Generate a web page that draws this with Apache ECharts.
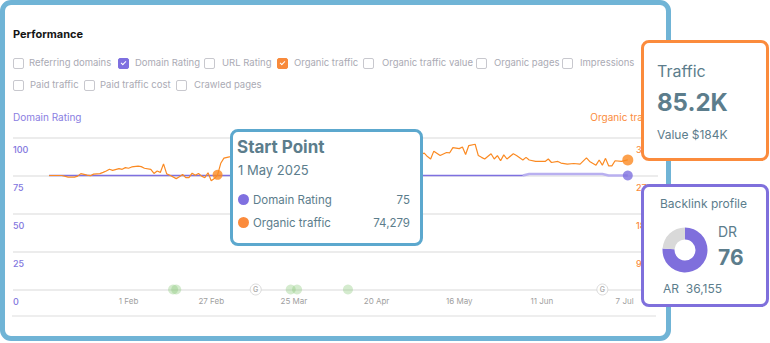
<!DOCTYPE html>
<html>
<head>
<meta charset="utf-8">
<script src="https://cdn.jsdelivr.net/npm/echarts@6/dist/echarts.min.js"></script>
<style>
html,body{margin:0;padding:0;width:770px;height:343px;overflow:hidden;background:#fff;font-family:Inter,"Noto Sans",sans-serif;}
#frame{position:absolute;left:0;top:0;width:671px;height:341px;box-sizing:border-box;border:5px solid #70b4d6;border-radius:11px;background:#fff;}
#chart{position:absolute;left:0;top:0;width:770px;height:343px;z-index:1;}
.title{position:absolute;left:13px;top:27px;font-size:11px;line-height:14px;font-weight:700;color:#141414;z-index:2;}
.cb{position:absolute;width:9px;height:9px;border:1px solid #c8c8ce;border-radius:2px;z-index:2;}
.cb.p{background:#7e70e0;border-color:#7e70e0;}
.cb.o{background:#f88a3c;border-color:#f88a3c;}
.cb.p::after,.cb.o::after{content:"";position:absolute;left:3px;top:1px;width:2px;height:4px;border:solid #fff;border-width:0 1.3px 1.3px 0;transform:rotate(45deg);}
.lbl{position:absolute;font-size:9.5px;line-height:12px;color:#aaaab4;white-space:nowrap;z-index:2;}
#sep{position:absolute;left:12px;top:315px;width:644px;height:2px;background:#eeeeee;z-index:2;}
.card{position:absolute;box-sizing:border-box;background:#fff;border-radius:8px;z-index:3;color:#5c7d8c;}
.card div{position:absolute;white-space:nowrap;}
#tip{left:230px;top:129px;width:193px;height:117px;border:3px solid #5ca8ce;}
#traffic{left:641px;top:40px;width:128px;height:121px;border:3px solid #fb8b3c;}
#backlink{left:641px;top:184px;width:128px;height:123px;border:3px solid #7f70dc;}
.dot{width:11px;height:11px;border-radius:50%;}
#donut{width:46px;height:46px;}
</style>
</head>
<body>
<div id="frame"></div>
<div class="title">Performance</div>

<div class="cb" style="left:13px;top:58px"></div><div class="lbl" style="left:29px;top:57px">Referring domains</div>
<div class="cb p" style="left:118px;top:58px"></div><div class="lbl" style="left:135px;top:57px">Domain Rating</div>
<div class="cb" style="left:204px;top:58px"></div><div class="lbl" style="left:222px;top:57px">URL Rating</div>
<div class="cb o" style="left:277px;top:58px"></div><div class="lbl" style="left:294px;top:57px">Organic traffic</div>
<div class="cb" style="left:363px;top:58px"></div><div class="lbl" style="left:382px;top:57px">Organic traffic value</div>
<div class="cb" style="left:476px;top:58px"></div><div class="lbl" style="left:494px;top:57px">Organic pages</div>
<div class="cb" style="left:562px;top:58px"></div><div class="lbl" style="left:580px;top:57px">Impressions</div>
<div class="cb" style="left:13px;top:80px"></div><div class="lbl" style="left:30px;top:79px">Paid traffic</div>
<div class="cb" style="left:84px;top:80px"></div><div class="lbl" style="left:100px;top:79px">Paid traffic cost</div>
<div class="cb" style="left:176px;top:80px"></div><div class="lbl" style="left:194px;top:79px">Crawled pages</div>

<div id="sep"></div>
<div id="chart"></div>

<div class="card" id="tip">
  <div style="left:4px;top:5px;font-size:17px;line-height:21px;font-weight:700;">Start Point</div>
  <div style="left:5px;top:30px;font-size:13px;line-height:16px;">1 May 2025</div>
  <div class="dot" style="left:5px;top:62px;background:#7f70e0"></div>
  <div style="left:20px;top:61px;font-size:11.5px;line-height:14px;">Domain Rating</div>
  <div style="right:10px;top:61px;font-size:11.5px;line-height:14px;">75</div>
  <div class="dot" style="left:5px;top:85px;background:#fb8b3c"></div>
  <div style="left:20px;top:84px;font-size:11.5px;line-height:14px;">Organic traffic</div>
  <div style="right:10px;top:84px;font-size:11.5px;line-height:14px;">74,279</div>
</div>

<div class="card" id="traffic">
  <div style="left:13px;top:18px;font-size:16px;line-height:20px;">Traffic</div>
  <div style="left:13px;top:45px;font-size:24px;line-height:30px;font-weight:700;">85.2K</div>
  <div style="left:13px;top:85px;font-size:12px;line-height:14px;">Value $184K</div>
</div>

<div class="card" id="backlink">
  <div style="left:16px;top:10px;font-size:12px;line-height:14px;">Backlink profile</div>
  <div id="donut" style="left:18px;top:40px;"></div>
  <div style="left:74px;top:37px;font-size:14px;line-height:16px;">DR</div>
  <div style="left:74px;top:59px;font-size:21px;line-height:24px;font-weight:700;">76</div>
  <div style="left:19px;top:95px;font-size:12px;line-height:14px;">AR&nbsp; 36,155</div>
</div>

<script>
// ---------------- data ----------------
const xRange = ['2024-12-26 16:00', '2025-07-17 12:00'];
const tickDates = ['2025-02-01','2025-02-27','2025-03-25','2025-04-20','2025-05-16','2025-06-11','2025-07-07'];
const monthNames = ['Jan','Feb','Mar','Apr','May','Jun','Jul','Aug','Sep','Oct','Nov','Dec'];

const drTicks = [0, 25, 50, 75, 100];
const trafficTicks = [0, 9000, 18000, 27000, 36000];

const drDates = ['2025-01-07','2025-06-05'];
const drValues = [75, 75];
const drRecentDates = ['2025-06-05','2025-06-07','2025-06-30','2025-07-02','2025-07-08'];
const drRecentValues = [75, 76, 76, 75, 75];

const trafficDates = [
 '2025-01-07','2025-01-11','2025-01-13','2025-01-15','2025-01-16','2025-01-17','2025-01-19','2025-01-20','2025-01-21','2025-01-23',
 '2025-01-24','2025-01-25','2025-01-26','2025-01-27','2025-01-29','2025-01-30','2025-01-31','2025-02-01','2025-02-02','2025-02-04',
 '2025-02-05','2025-02-06','2025-02-08','2025-02-09','2025-02-10','2025-02-11','2025-02-12','2025-02-13','2025-02-14','2025-02-16',
 '2025-02-17','2025-02-18','2025-02-19','2025-02-20','2025-02-21','2025-02-22','2025-02-23','2025-02-24','2025-02-25','2025-02-26',
 '2025-02-27','2025-02-28','2025-03-01','2025-03-02','2025-03-03','2025-03-05','2025-03-06',
 '2025-03-08','2025-03-10','2025-03-12','2025-03-14','2025-03-16','2025-03-18','2025-03-20','2025-03-22','2025-03-24','2025-03-26',
 '2025-03-28','2025-03-30','2025-04-01','2025-04-03','2025-04-05','2025-04-07','2025-04-09','2025-04-11','2025-04-13','2025-04-15',
 '2025-04-17','2025-04-19','2025-04-21','2025-04-23','2025-04-25','2025-04-27','2025-04-29','2025-05-01','2025-05-03','2025-05-05',
 '2025-05-06','2025-05-07','2025-05-08','2025-05-10','2025-05-12','2025-05-13','2025-05-14','2025-05-16','2025-05-17','2025-05-18',
 '2025-05-19','2025-05-21','2025-05-22','2025-05-23','2025-05-24','2025-05-26','2025-05-27','2025-05-28','2025-05-29','2025-05-30',
 '2025-05-31','2025-06-02','2025-06-03','2025-06-05','2025-06-06','2025-06-07','2025-06-09','2025-06-12','2025-06-13','2025-06-14',
 '2025-06-16','2025-06-17','2025-06-19','2025-06-21','2025-06-23','2025-06-25','2025-06-26','2025-06-28','2025-06-29','2025-06-30',
 '2025-07-01','2025-07-02','2025-07-03','2025-07-04','2025-07-06','2025-07-08'
];
const trafficValues = [
 27000,27000,26630,26630,26850,27440,27100,26960,27320,27440,
 27730,28050,28470,28220,28610,28470,28860,28710,29030,29200,
 29100,28710,28470,27490,28050,27730,29760,27390,27070,26260,
 26700,27240,26480,26480,27560,27070,27490,26850,26480,27640,
 25760,26260,27150,29890,31110,31480,31720,
 32400,31800,32900,32100,33200,32500,31600,32800,33400,32200,
 31900,33000,32600,31800,32900,33500,32300,31700,32800,33100,
 32000,32700,33300,32400,31900,32800,32200,32600,31800,32300,
 31480,30910,32770,31720,32450,32380,33600,33360,33750,31970,
 34090,34410,31720,31300,30910,32140,30910,31720,30500,31890,
 30910,32140,31720,30670,31300,30670,30330,30330,30910,30080,
 30330,29940,29690,29840,29690,31160,30330,29450,30670,29450,
 31060,29270,29270,30500,30330,30690
];

const startPointDate = '2025-03-01';
const startPointValue = 27150;

const eventDates = ['2025-02-15','2025-02-16','2025-03-24','2025-03-26','2025-04-11'];
const googleDates = ['2025-03-13','2025-06-30'];

const drScore = 76;
const drMax = 100;

// ---------------- helpers ----------------
function ts(s) {
  const [d, t] = s.split(' ');
  const [y, m, dd] = d.split('-').map(Number);
  let h = 0, mi = 0;
  if (t) { [h, mi] = t.split(':').map(Number); }
  return new Date(y, m - 1, dd, h, mi).getTime();
}
const pairs = (ds, vs) => ds.map((d, i) => [ts(d), vs[i]]);

const PURPLE = '#7e70e0', PURPLE_L = '#b9b0f0', ORANGE = '#fb8a22';
const FONT = 'Inter';

const trafficData = pairs(trafficDates, trafficValues);
const drData = pairs(drDates, drValues);
const drRecentData = pairs(drRecentDates, drRecentValues);

const donut = echarts.init(document.getElementById('donut'), null, {renderer: 'svg'});
donut.setOption({
  animation: false,
  series: [{
    type: 'pie', radius: [10.5, 22.5], center: ['50%', '50%'], startAngle: 90, clockwise: true,
    label: {show: false}, labelLine: {show: false}, silent: true,
    data: [
      {name: 'DR', value: drScore, itemStyle: {color: '#7f6fdc'}},
      {name: 'rest', value: drMax - drScore, itemStyle: {color: '#d9d9d9'}}
    ]
  }]
});

const chart = echarts.init(document.getElementById('chart'), null, {renderer: 'svg'});
chart.setOption({
  animation: false,
  grid: {left: 13, right: 770 - 658, top: 137.5, bottom: 343 - 289.5},
  xAxis: {
    type: 'value', min: ts(xRange[0]), max: ts(xRange[1]), scale: true,
    axisLine: {show: false}, axisTick: {show: false}, splitLine: {show: false},
    axisLabel: {
      customValues: tickDates.map(ts),
      formatter: v => { const d = new Date(v); return d.getDate() + ' ' + monthNames[d.getMonth()]; },
      fontSize: 8, color: '#a0a0a0', margin: 7, fontFamily: FONT
    }
  },
  yAxis: [
    {
      type: 'value', min: drTicks[0], max: drTicks[drTicks.length - 1], interval: drTicks[1] - drTicks[0],
      position: 'left', name: 'Domain Rating', nameLocation: 'end', nameGap: 21,
      nameTextStyle: {color: '#8a7ee2', fontSize: 10, align: 'left', verticalAlign: 'middle', fontFamily: FONT},
      axisLine: {show: false}, axisTick: {show: false},
      axisLabel: {inside: true, margin: 0, color: '#8276de', fontSize: 9, fontWeight: 500, verticalAlign: 'top', lineHeight: 10, padding: [7, 0, 0, 0], fontFamily: FONT},
      splitLine: {lineStyle: {color: '#ececec', width: 2}}
    },
    {
      type: 'value', min: trafficTicks[0], max: trafficTicks[trafficTicks.length - 1], interval: trafficTicks[1] - trafficTicks[0],
      position: 'right', name: 'Organic traffic', nameLocation: 'end', nameGap: 21,
      nameTextStyle: {color: '#fb8b3c', fontSize: 10, align: 'right', verticalAlign: 'middle', fontFamily: FONT},
      axisLine: {show: false}, axisTick: {show: false},
      axisLabel: {inside: true, align: 'left', margin: 22, showMinLabel: false, color: '#fb8b3c', fontSize: 9, fontWeight: 500,
        verticalAlign: 'top', lineHeight: 10, padding: [7, 0, 0, 0], fontFamily: FONT,
        formatter: v => (v / 1000) + 'k'},
      splitLine: {show: false}
    }
  ],
  series: [
    {name: 'Domain Rating', type: 'line', yAxisIndex: 0, data: drData, showSymbol: false,
     lineStyle: {color: PURPLE, width: 1.3}, z: 2},
    {name: 'Domain Rating recent', type: 'line', yAxisIndex: 0, data: drRecentData, showSymbol: false,
     lineStyle: {color: PURPLE_L, width: 2.5}, z: 2},
    {name: 'Organic traffic', type: 'line', yAxisIndex: 1, data: trafficData, showSymbol: false,
     lineStyle: {color: ORANGE, width: 1.2}, z: 3},
    {name: 'DR end', type: 'scatter', yAxisIndex: 0, data: [drRecentData[drRecentData.length - 1]],
     symbolSize: 10, itemStyle: {color: PURPLE}, z: 5, clip: false},
    {name: 'Traffic end', type: 'scatter', yAxisIndex: 1, data: [trafficData[trafficData.length - 1]],
     symbolSize: 11, itemStyle: {color: ORANGE}, z: 5, clip: false},
    {name: 'Start point', type: 'scatter', yAxisIndex: 1, data: [[ts(startPointDate), startPointValue]],
     symbolSize: 10, itemStyle: {color: ORANGE}, z: 5, clip: false},
    {name: 'Events', type: 'scatter', yAxisIndex: 0, data: eventDates.map(d => [ts(d), 0]),
     symbolSize: 10, itemStyle: {color: 'rgba(135,200,120,0.45)'}, z: 4, clip: false},
    {name: 'Google updates', type: 'scatter', yAxisIndex: 0, data: googleDates.map(d => [ts(d), 0]),
     symbolSize: 11, itemStyle: {color: '#fff', borderColor: '#d2d2d2', borderWidth: 1}, z: 4, clip: false,
     label: {show: true, position: 'inside', formatter: 'G', fontSize: 7, fontWeight: 600, color: '#9a9a9a', fontFamily: FONT}}
  ]
});
</script>
</body>
</html>
